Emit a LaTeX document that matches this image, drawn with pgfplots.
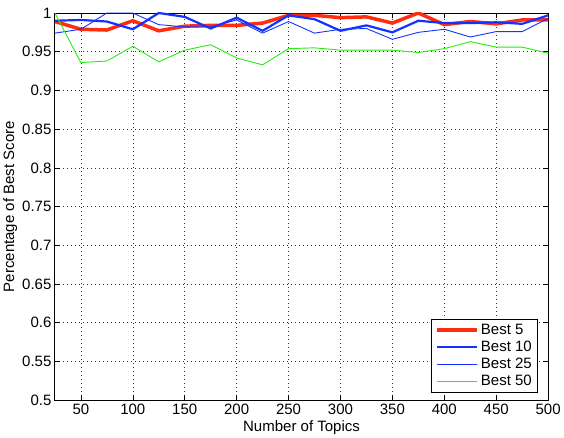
\documentclass[border=0pt]{standalone}
\usepackage{pgfplots}
\pgfplotsset{compat=1.18}
\usepackage{fontspec}
\setmainfont{Liberation Sans}
\definecolor{mred}{RGB}{255,45,15}
\definecolor{mblue}{RGB}{20,50,255}
\definecolor{mgreen}{RGB}{40,235,20}
\begin{document}
\begin{tikzpicture}
\begin{axis}[
  scale only axis,
  width=493pt, height=387pt,
  xmin=25, xmax=500, ymin=0.5, ymax=1,
  xtick={50,100,...,500},
  ytick={0.5,0.55,...,1.0},
  yticklabels={0.5,0.55,0.6,0.65,0.7,0.75,0.8,0.85,0.9,0.95,1},
  /pgf/number format/assume math mode=true,
  tick align=inside,
  tick pos=both,
  major tick length=5pt,
  grid=major,
  grid style={black!80, dash pattern=on 0.8pt off 3.2pt, line width=0.5pt},
  axis line style={line width=0.9pt},
  tick style={black, line width=0.5pt},
  tick label style={font=\fontsize{15}{17}\selectfont},
  label style={font=\fontsize{15}{17}\selectfont},
  xlabel={Number of Topics},
  ylabel={Percentage of Best Score},
  xlabel style={yshift=1pt},
  ylabel style={yshift=-2pt},
  legend cell align=left,
  legend style={at={(rel axis cs:0.98,0.02)}, anchor=south east,
    draw=black, line width=0.9pt, font=\fontsize{15}{17}\selectfont,
    inner xsep=4pt, inner ysep=3pt, row sep=1pt},
  legend image code/.code={\draw[#1] (0pt,0pt) -- (40pt,0pt);},
  after end axis/.code={\path (rel axis cs:0,1) ++(0,13pt);},
]
\addplot[mred, line width=3.5pt] coordinates {
(25,0.989) (50,0.979) (75,0.978) (100,0.990) (125,0.977) (150,0.983) (175,0.984)
(200,0.984) (225,0.987) (250,0.997) (275,0.997) (300,0.994) (325,0.995)
(350,0.987) (375,1.000) (400,0.985) (425,0.989) (450,0.986) (475,0.991) (500,0.991)};
\addlegendentry{Best 5}
\addplot[mblue, line width=2.2pt] coordinates {
(25,0.990) (50,0.991) (75,0.989) (100,0.979) (125,1.000) (150,0.995) (175,0.980)
(200,0.994) (225,0.977) (250,0.997) (275,0.992) (300,0.977) (325,0.984)
(350,0.975) (375,0.990) (400,0.987) (425,0.987) (450,0.988) (475,0.986) (500,0.997)};
\addlegendentry{Best 10}
\addplot[mblue, line width=0.9pt] coordinates {
(25,0.974) (50,0.979) (75,1.000) (100,1.000) (125,0.985) (150,0.982) (175,0.982)
(200,0.991) (225,0.974) (250,0.989) (275,0.974) (300,0.979) (325,0.980)
(350,0.966) (375,0.975) (400,0.979) (425,0.969) (450,0.976) (475,0.976) (500,0.993)};
\addlegendentry{Best 25}
\addplot[mgreen, line width=0.9pt] coordinates {
(25,1.000) (50,0.936) (75,0.938) (100,0.957) (125,0.937) (150,0.952) (175,0.959)
(200,0.942) (225,0.933) (250,0.954) (275,0.955) (300,0.952) (325,0.952)
(350,0.952) (375,0.949) (400,0.954) (425,0.963) (450,0.956) (475,0.956) (500,0.948)};
\addlegendentry{Best 50}
\end{axis}
\end{tikzpicture}
\end{document}
